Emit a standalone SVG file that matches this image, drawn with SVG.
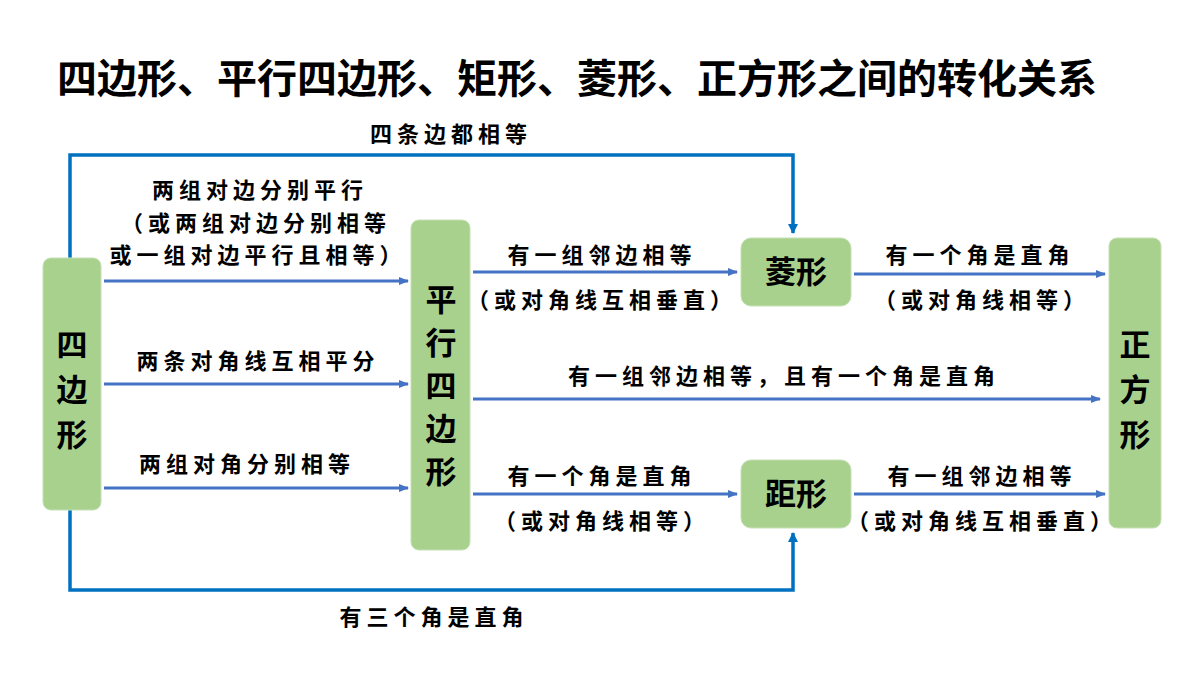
<svg xmlns="http://www.w3.org/2000/svg" width="1200" height="675" viewBox="0 0 1200 675">
<style>
.t{font-family:"Noto Sans CJK SC","Liberation Sans",sans-serif;font-weight:bold;fill:#000}
.l{font-family:"Noto Sans CJK SC","Liberation Sans",sans-serif;font-weight:600;font-size:22px;letter-spacing:5px;fill:#000;text-anchor:middle}
.n{fill:#a9d18e;stroke:#c5e0b4;stroke-width:1}
.nt{font-family:"Noto Sans CJK SC","Liberation Sans",sans-serif;font-weight:bold;font-size:31px;fill:#000;text-anchor:middle}
.c{stroke:#4472c4;stroke-width:3;fill:none;marker-end:url(#a)}
.d{stroke:#0070c0;stroke-width:3.5;fill:none;marker-end:url(#b)}
</style>
<defs>
<marker id="a" markerWidth="10" markerHeight="8" refX="9" refY="4" orient="auto" markerUnits="userSpaceOnUse"><path d="M0,0 L10,4 L0,8 Z" fill="#4472c4"/></marker>
<marker id="b" markerWidth="10" markerHeight="10" refX="9" refY="5" orient="auto" markerUnits="userSpaceOnUse"><path d="M0,0 L10,5 L0,10 Z" fill="#0070c0"/></marker>
</defs>
<rect width="1200" height="675" fill="#fff"/>
<text class="t" x="57" y="93" font-size="40">四边形、平行四边形、矩形、菱形、正方形之间的转化关系</text>
<g id="connectors">
<path class="d" d="M70,258 V155 H793 V233"/>
<path class="d" d="M70,510 V590 H793 V533"/>
<path class="c" d="M104,281 H408"/>
<path class="c" d="M104,384 H408"/>
<path class="c" d="M104,488 H408"/>
<path class="c" d="M473,272 H737"/>
<path class="c" d="M473,399 H1100"/>
<path class="c" d="M473,494 H737"/>
<path class="c" d="M854,274 H1105"/>
<path class="c" d="M854,494 H1105"/>
<text class="l" x="451" y="142">四条边都相等</text>
<text class="l" x="434" y="625">有三个角是直角</text>
<text class="l" x="260" y="198">两组对边分别平行</text>
<text class="l" x="256" y="231">（或两组对边分别相等</text>
<text class="l" x="258" y="263">或一组对边平行且相等）</text>
<text class="l" x="258" y="369">两条对角线互相平分</text>
<text class="l" x="247" y="472">两组对角分别相等</text>
<text class="l" x="602" y="263">有一组邻边相等</text>
<text class="l" x="602" y="308">（或对角线互相垂直）</text>
<text class="l" x="784" y="384">有一组邻边相等，且有一个角是直角</text>
<text class="l" x="602" y="484">有一个角是直角</text>
<text class="l" x="602" y="529">（或对角线相等）</text>
<text class="l" x="980" y="263">有一个角是直角</text>
<text class="l" x="982" y="308">（或对角线相等）</text>
<text class="l" x="982" y="484">有一组邻边相等</text>
<text class="l" x="982" y="529">（或对角线互相垂直）</text>
</g>
<g id="quad"><rect class="n" x="43" y="258" width="58" height="252" rx="8"/>
<text class="nt" x="72" y="356">四</text><text class="nt" x="72" y="401">边</text><text class="nt" x="72" y="446">形</text></g>
<g id="para"><rect class="n" x="411" y="220" width="59" height="330" rx="8"/>
<text class="nt" x="441" y="311">平</text><text class="nt" x="441" y="354">行</text><text class="nt" x="441" y="397">四</text><text class="nt" x="441" y="440">边</text><text class="nt" x="441" y="483">形</text></g>
<g id="rhombus"><rect class="n" x="741" y="238" width="110" height="68" rx="10"/>
<text class="nt" x="796" y="283">菱形</text></g>
<g id="rect"><rect class="n" x="741" y="460" width="110" height="68" rx="10"/>
<text class="nt" x="796" y="505">距形</text></g>
<g id="square"><rect class="n" x="1109" y="238" width="52" height="290" rx="8"/>
<text class="nt" x="1135" y="356">正</text><text class="nt" x="1135" y="401">方</text><text class="nt" x="1135" y="446">形</text></g>
</svg>
